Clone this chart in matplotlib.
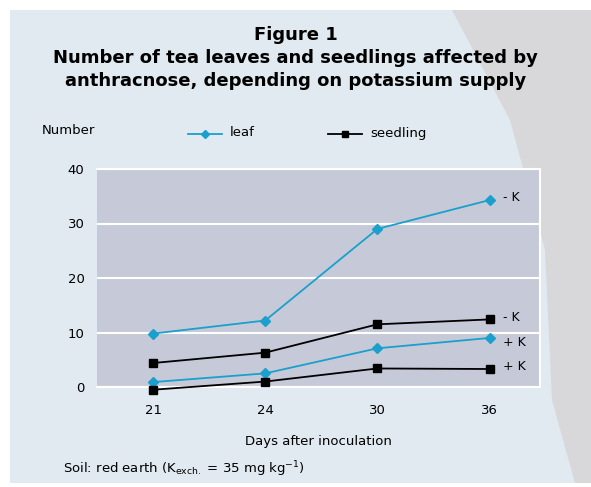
import matplotlib
matplotlib.use("Agg")
import matplotlib.pyplot as plt
from matplotlib.patches import Polygon, Rectangle

days = ["21", "24", "30", "36"]
leaf_minus_k = [9.8, 12.2, 29.0, 34.3]
leaf_plus_k = [0.9, 2.5, 7.1, 9.0]
seedling_minus_k = [4.4, 6.3, 11.5, 12.4]
seedling_plus_k = [-0.5, 1.0, 3.4, 3.3]
yticks = [0, 10, 20, 30, 40]

W, H = 591, 487
leaf_col = "#1b9fcc"

fig = plt.figure(figsize=(W / 100, H / 100), dpi=100)
fig.patch.set_facecolor("white")

def fx(x):
    return x / W

def fy(y):
    return 1 - y / H

# background panel (cyan dither on left, gray on right)
fig.patches.append(Rectangle((fx(10), fy(483)), fx(581), (483 - 10) / H,
                             transform=fig.transFigure, facecolor="#e0eaf0",
                             edgecolor="none", zorder=-2))
gray = [(452, 10), (510, 120), (545, 250), (552, 400), (575, 483), (591, 483), (591, 10)]
fig.patches.append(Polygon([(fx(x), fy(y)) for x, y in gray], closed=True,
                           transform=fig.transFigure, facecolor="#d8d8da",
                           edgecolor="none", zorder=-1))

ax = fig.add_axes([fx(97), fy(387), fx(540 - 97), (387 - 169) / H])
ax.set_zorder(1)
ax.set_facecolor("#c6cad8")
x = range(len(days))

ax.plot(x, leaf_minus_k, color=leaf_col, marker="D", ms=5, lw=1.3, clip_on=False, zorder=3)
ax.plot(x, leaf_plus_k, color=leaf_col, marker="D", ms=5, lw=1.3, clip_on=False, zorder=3)
ax.plot(x, seedling_minus_k, color="black", marker="s", ms=6, lw=1.3, clip_on=False, zorder=3)
ax.plot(x, seedling_plus_k, color="black", marker="s", ms=6, lw=1.3, clip_on=False, zorder=3)

ax.set_xlim(-0.5, 3.45)
ax.set_ylim(0, 39.6)
ax.set_xticks(list(x))
ax.set_xticklabels(days)
ax.set_yticks(yticks)
ax.tick_params(length=0, labelsize=9.5)
ax.tick_params(axis="y", pad=9)
ax.tick_params(axis="x", pad=12)
ax.yaxis.grid(True, color="white", lw=1.5)
ax.set_axisbelow(True)
for s in ["top", "right", "bottom"]:
    ax.spines[s].set_color("white")
    ax.spines[s].set_linewidth(1.5)
ax.spines["left"].set_visible(False)

# end labels
ax.text(3.12, leaf_minus_k[3] + 0.4, "- K", fontsize=9, va="center")
ax.text(3.12, seedling_minus_k[3] + 0.3, "- K", fontsize=9, va="center")
ax.text(3.12, leaf_plus_k[3] - 0.8, "+ K", fontsize=9, va="center")
ax.text(3.12, seedling_plus_k[3] + 0.5, "+ K", fontsize=9, va="center")

# titles
fig.text(0.5, fy(35), "Figure 1", ha="center", va="center", fontsize=13, fontweight="bold")
fig.text(0.5, fy(58), "Number of tea leaves and seedlings affected by", ha="center",
         va="center", fontsize=13, fontweight="bold")
fig.text(0.5, fy(81), "anthracnose, depending on potassium supply", ha="center",
         va="center", fontsize=13, fontweight="bold")

# legend row
fig.text(fx(42), fy(131), "Number", va="center", fontsize=9.5)
fig.lines.append(plt.Line2D([fx(188), fx(222)], [fy(134), fy(134)], color=leaf_col,
                            transform=fig.transFigure, lw=1.3))
fig.lines.append(plt.Line2D([fx(205)], [fy(134)], color=leaf_col, marker="D", ms=4,
                            transform=fig.transFigure))
fig.text(fx(230), fy(133), "leaf", va="center", fontsize=9.5)
fig.lines.append(plt.Line2D([fx(328), fx(362)], [fy(134), fy(134)], color="black",
                            transform=fig.transFigure, lw=1.3))
fig.lines.append(plt.Line2D([fx(345)], [fy(134)], color="black", marker="s", ms=5,
                            transform=fig.transFigure))
fig.text(fx(370), fy(133), "seedling", va="center", fontsize=9.5)

fig.text(fx(318), fy(442), "Days after inoculation", ha="center", va="center", fontsize=9.5)
fig.text(fx(63), fy(469), "Soil: red earth (K$_{\\mathrm{exch.}}$ = 35 mg kg$^{-1}$)",
         va="center", fontsize=9.5)

fig.savefig("out.png", dpi=100)
